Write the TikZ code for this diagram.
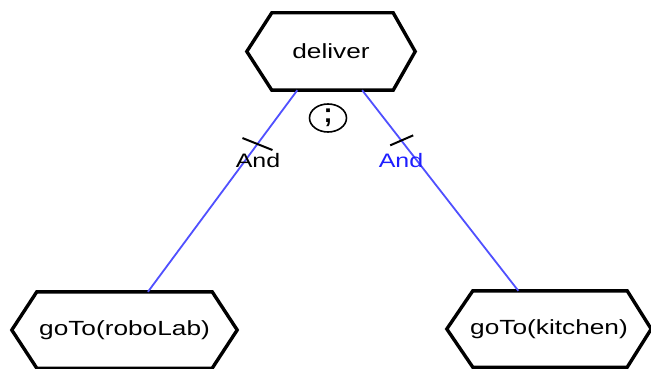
\documentclass[tikz,border=0pt]{standalone}
\usepackage{fontspec}
\setmainfont{Liberation Sans}
\usepackage{graphicx}
\usetikzlibrary{calc,shapes.geometric}
\definecolor{linkblue}{RGB}{80,80,255}
\definecolor{andblue}{RGB}{30,30,255}
\begin{document}
\begin{tikzpicture}[x=1pt,y=-1pt,
  hexbox/.style={inner sep=0pt, minimum height=#1, font=\fontsize{20.5}{24}\selectfont},
  hexline/.style={draw=black, line width=3.4pt, line join=miter},
  link/.style={draw=linkblue, line width=1.8pt},
  tick/.style={draw=black, line width=2pt},
  andlabel/.style={inner sep=0pt, font=\fontsize{19.5}{22}\selectfont}]
\useasboundingbox (0,0) rectangle (651,369);
\fill[white] (0,0) rectangle (651,369);
\newcommand{\hexshape}[3]{% node, left cut, right cut
  \draw[hexline] (#1.west) -- ($(#1.north west)+(#2,0)$) -- ($(#1.north east)-(#3,0)$) -- (#1.east)
     -- ($(#1.south east)-(#3,0)$) -- ($(#1.south west)+(#2,0)$) -- cycle;}
\node[hexbox=77pt, minimum width=168pt] (deliver) at (331,51.5) {\scalebox{1.28}[1]{deliver}};
\node[hexbox=76pt, minimum width=225pt] (robo) at (124.5,330) {\scalebox{1.28}[1]{goTo(roboLab)}};
\node[hexbox=76pt, minimum width=204pt] (kitchen) at (549,329) {\scalebox{1.28}[1]{goTo(kitchen)}};
\hexshape{deliver}{25}{22}
\hexshape{robo}{25}{25}
\hexshape{kitchen}{26}{24}
\coordinate (dL) at ($(deliver.south west)!0.30!(deliver.south east)$);
\coordinate (dR) at ($(deliver.south west)!0.685!(deliver.south east)$);
\coordinate (rT) at ($(robo.north west)!0.604!(robo.north east)$);
\coordinate (kT) at ($(kitchen.north west)!0.35!(kitchen.north east)$);
\draw[link] (dL) -- coordinate[pos=0.267] (tL) (rT);
\draw[link] (dR) -- coordinate[pos=0.25] (tR) (kT);
\draw[tick] ($(tL)+(-15,-6)$) -- ($(tL)+(15,6)$);
\draw[tick] ($(tR)+(-11,5)$) -- ($(tR)+(12,-5)$);
\node[andlabel] (andL) at (258,161) {\scalebox{1.28}[1]{And}};
\node[andlabel, text=andblue] (andR) at (401,161) {\scalebox{1.28}[1]{And}};
\node[draw=black, line width=1.6pt, ellipse, minimum width=37pt, minimum height=28pt, inner sep=0pt] (seq) at (328,118) {};
\node[font=\fontsize{27}{28}\selectfont\bfseries, inner sep=0pt] (semi) at (seq.center) {;};
\end{tikzpicture}
\end{document}
